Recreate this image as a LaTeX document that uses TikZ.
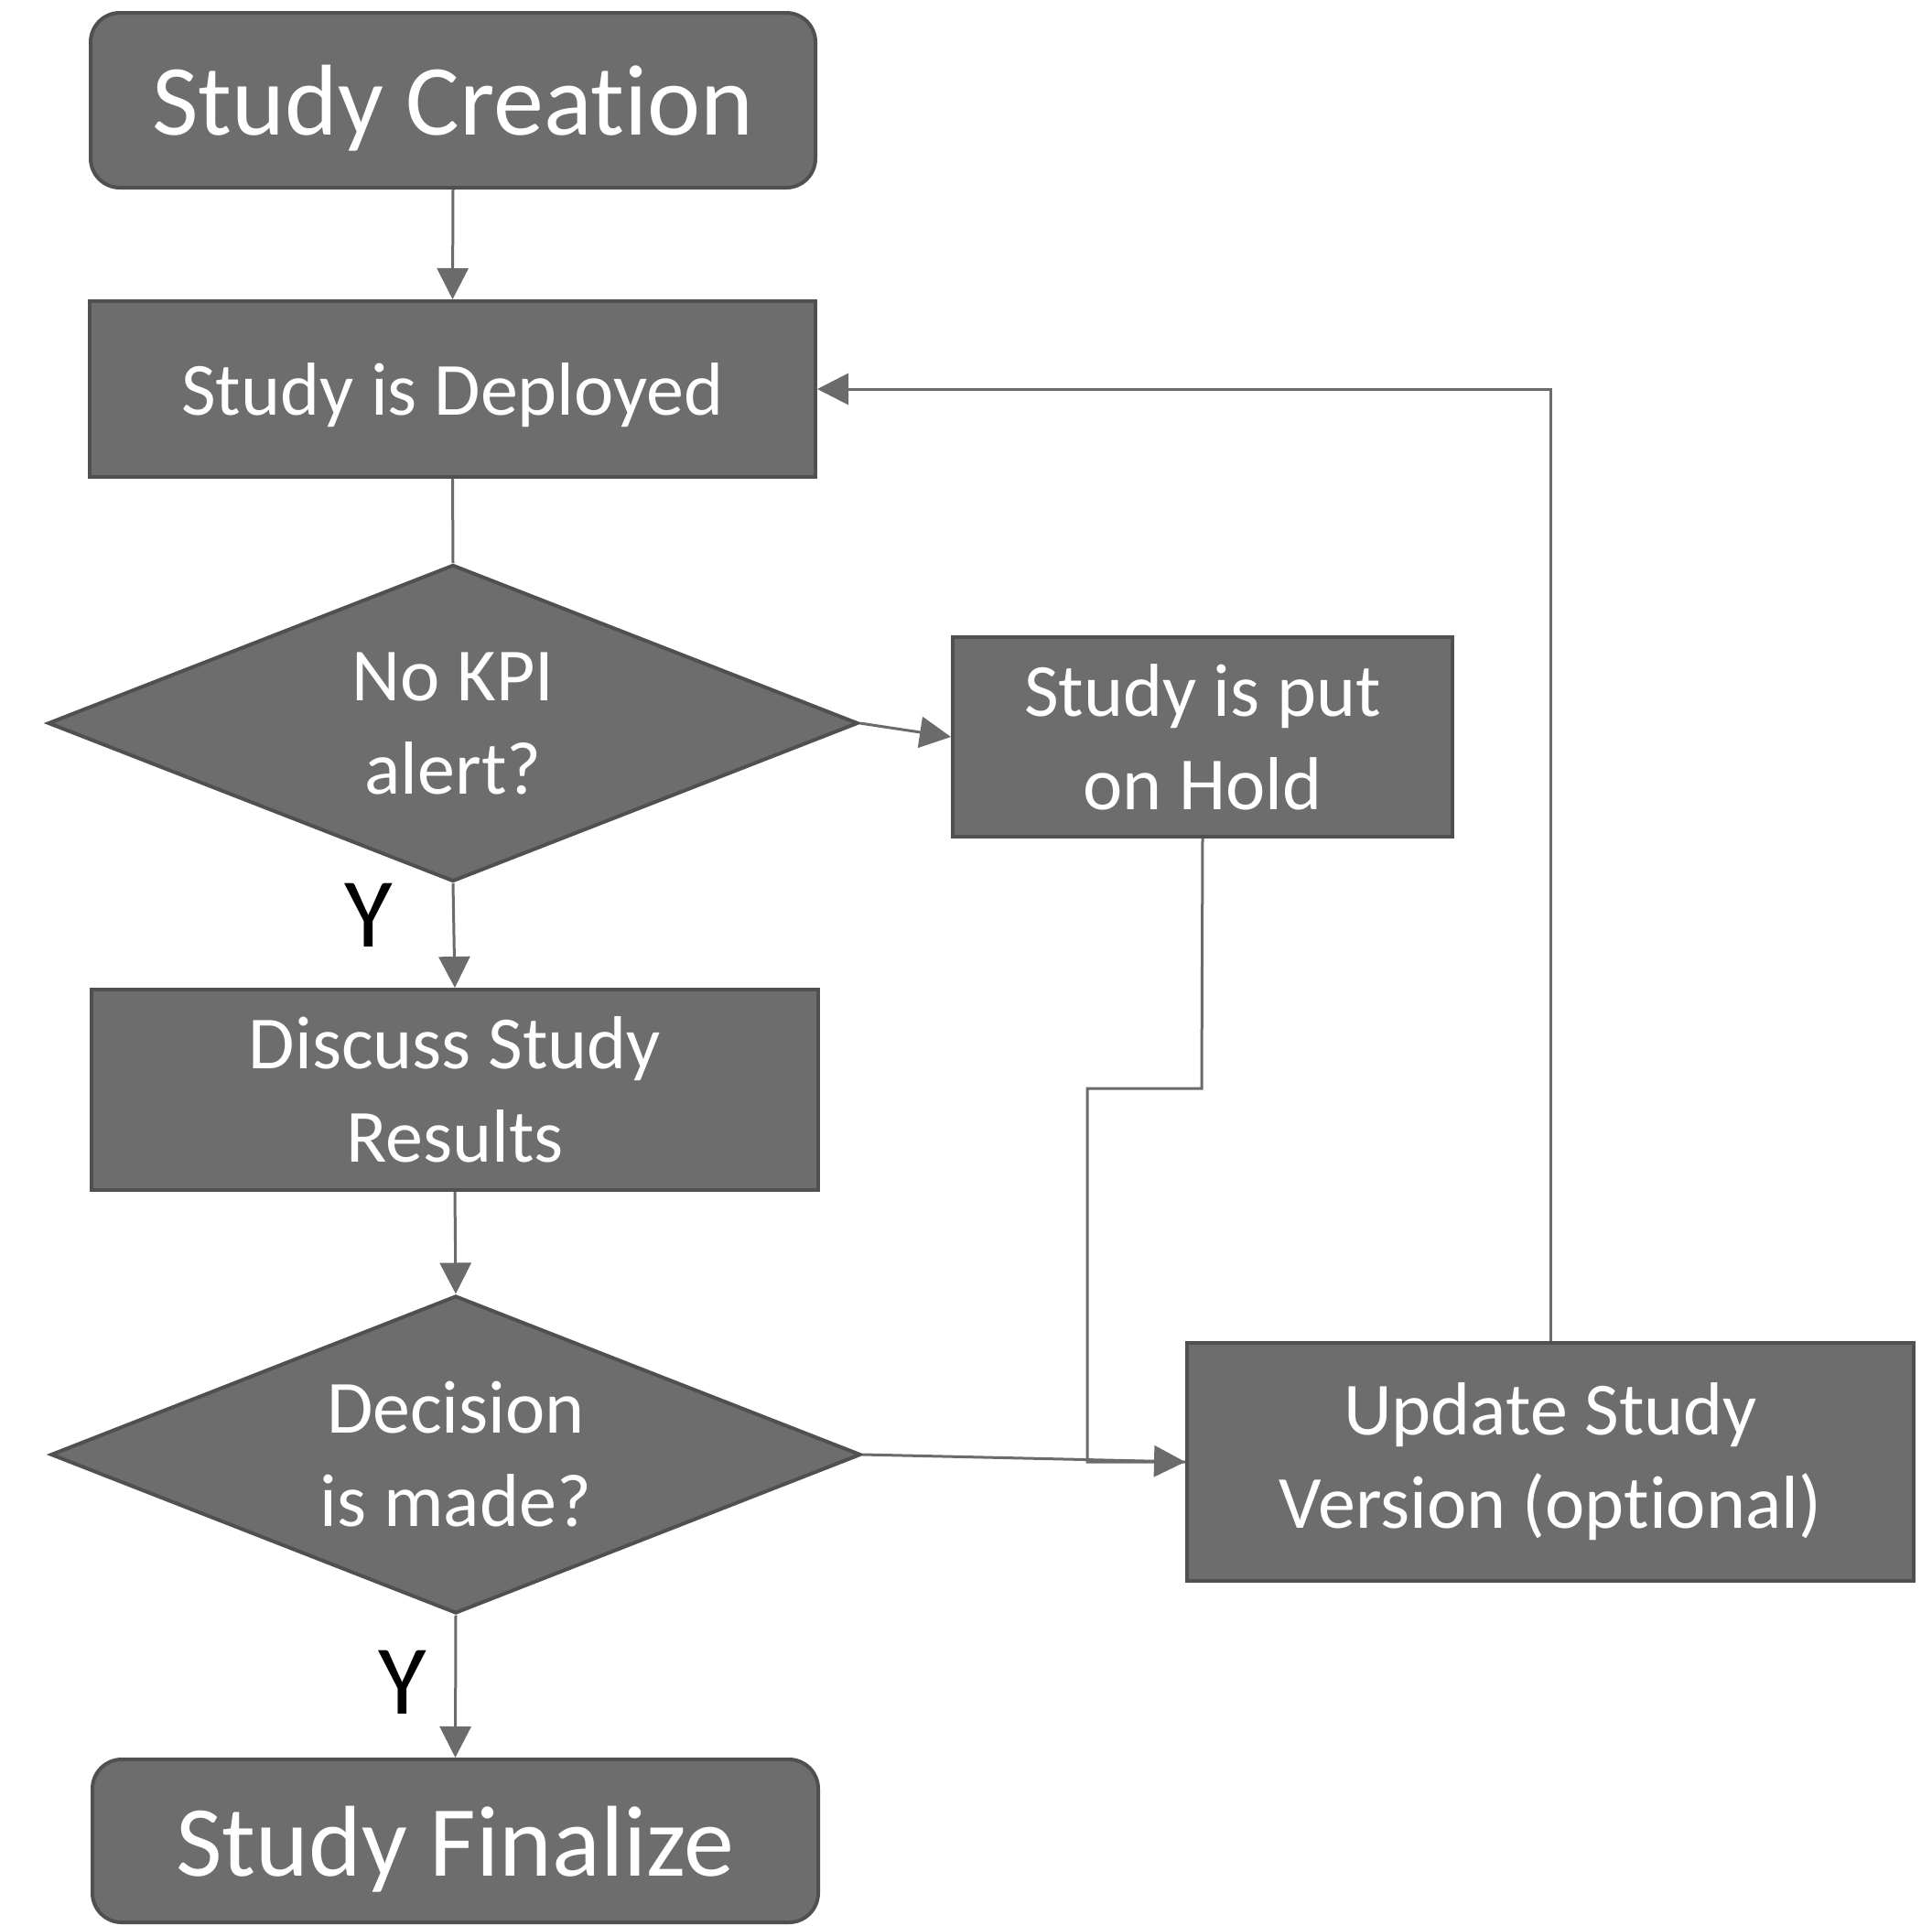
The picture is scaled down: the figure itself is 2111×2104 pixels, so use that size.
\documentclass[tikz,border=0pt]{standalone}
\usepackage{fontspec}
\setmainfont[Ligatures={NoCommon}]{Carlito}
\usetikzlibrary{shapes.geometric,arrows.meta}
\definecolor{boxfill}{HTML}{6D6D6D}
\definecolor{boxline}{HTML}{505050}
\definecolor{conn}{HTML}{6B6B6B}
\begin{document}
\begin{tikzpicture}[x=0.5pt,y=-0.5pt,
  box/.style={draw=boxline, line width=2pt, fill=boxfill, text=white, inner sep=0pt,
    align=center, font=\fontsize{41}{51}\selectfont},
  onebox/.style={box, text depth=0pt},
  bigbox/.style={box, rounded corners=16pt, text depth=0pt, font=\fontsize{55}{66}\selectfont},
  dia/.style={box, shape=diamond, aspect=2.56},
  conn/.style={draw=conn, line width=1.5pt},
  arr/.style={conn, -{Triangle[length=17pt,width=17pt]}},
  ylab/.style={text=black, inner sep=0pt, font=\fontsize{54}{60}\selectfont}]
\path[use as bounding box, fill=white] (0,0) rectangle (2111,2104);

\node[bigbox, minimum width=396pt, minimum height=95.5pt] (create) at (495,109.5) {Study Creation};
\node[onebox, minimum width=396.5pt, minimum height=96pt] (deploy) at (494.5,425) {Study is Deployed};
\node[dia, minimum width=442.5pt, minimum height=173pt] (kpi) at (495,790) {No KPI\\alert?};
\node[box, minimum width=273pt, minimum height=109pt] (hold) at (1314,805) {Study is put\\on Hold};
\node[box, minimum width=397pt, minimum height=109.5pt] (discuss) at (497,1190.5) {Discuss Study\\Results};
\node[dia, minimum width=442.5pt, minimum height=173.5pt] (dec) at (498,1589) {Decision\\is made?};
\node[box, minimum width=397pt, minimum height=130pt] (update) at (1694,1597) {Update Study\\Version (optional)};
\node[bigbox, minimum width=396.5pt, minimum height=89pt] (final) at (497.5,2011) {Study Finalize};
\node[ylab] (y1) at (403,1000) {Y};
\node[ylab] (y2) at (440,1838) {Y};

\draw[arr] (create.south) -- (deploy.north);
\draw[conn] (deploy.south) -- (kpi.north);
\draw[arr] (kpi.east) -- (hold.west);
\draw[arr] (kpi.south) -- (discuss.north);
\draw[arr] (discuss.south) -- (dec.north);
\draw[arr] (dec.south) -- (final.north);
\draw[conn] (hold.south) -- (1313,1189) -- (1188,1189) -- (1188,1597) -- (update.west);
\draw[arr] (dec.east) -- (update.west);
\draw[arr] (update.north) |- (deploy.east);
\end{tikzpicture}
\end{document}
